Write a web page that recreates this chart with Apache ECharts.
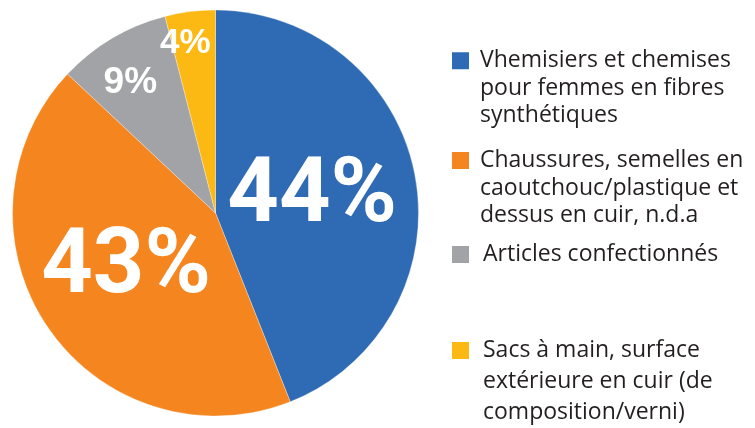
<!DOCTYPE html>
<html>
<head>
<meta charset="utf-8">
<script src="https://cdn.jsdelivr.net/npm/echarts@6/dist/echarts.min.js"></script>
<style>html,body{margin:0;padding:0;background:#fff}#c{width:755px;height:428px}</style>
</head>
<body>
<div id="c"></div>
<script>
const categories = [
  "Vhemisiers et chemises\npour femmes en fibres\nsynthétiques",
  "Chaussures, semelles en\ncaoutchouc/plastique et\ndessus en cuir, n.d.a",
  "Articles confectionnés",
  "Sacs à main, surface\nextérieure en cuir (de\ncomposition/verni)"
];
const values = [44, 43, 9, 4];
const colors = ["#2e6bb4", "#f5861f", "#a2a3a7", "#fcb813"];

const labelFont = [
  {fontSize: 90, fontFamily: "Roboto, sans-serif", offset: [-6, 5]},
  {fontSize: 90, fontFamily: "Roboto, sans-serif", offset: [-3, -2]},
  {fontSize: 37, fontFamily: "'Liberation Sans', sans-serif", offset: [-32, -40]},
  {fontSize: 35, fontFamily: "'Liberation Sans', sans-serif", offset: [-17, -66]}
];

// legend layout: [top, lineHeight, lines, extraLeft]
const legendLayout = [
  [-8, 27.5, 3, 5],
  [91.75, 27.5, 3, 5],
  [241, 27, 1, 8],
  [273, 31, 3, 8]
];

const chart = echarts.init(document.getElementById('c'));
const legends = categories.map((name, i) => {
  const [top, lh, n, extra] = legendLayout[i];
  return {
    data: [name],
    left: 450,
    top: top,
    padding: 0,
    itemWidth: 19,
    itemHeight: 19,
    icon: 'rect',
    selectedMode: false,
    formatter: (nm) => '\n'.repeat(n - 1) + nm,
    textStyle: {
      fontFamily: "'Open Sans', sans-serif",
      fontSize: 23,
      color: '#231f20',
      lineHeight: lh,
      padding: [0, 0, 0, extra]
    }
  };
});

chart.setOption({
  animation: false,
  color: colors,
  legend: legends,
  series: [{
    type: 'pie',
    center: [215.5, 213],
    radius: 203,
    startAngle: 90,
    clockwise: true,
    avoidLabelOverlap: false,
    labelLayout: {hideOverlap: false},
    itemStyle: {borderColor: '#fff', borderWidth: 0.3},
    label: {
      show: true,
      position: 'inside',
      formatter: '{d}%',
      color: '#fff',
      fontWeight: 'bold'
    },
    labelLine: {show: false},
    emphasis: {disabled: true},
    data: categories.map((name, i) => ({
      name: name,
      value: values[i],
      label: labelFont[i]
    }))
  }]
});
</script>
</body>
</html>
